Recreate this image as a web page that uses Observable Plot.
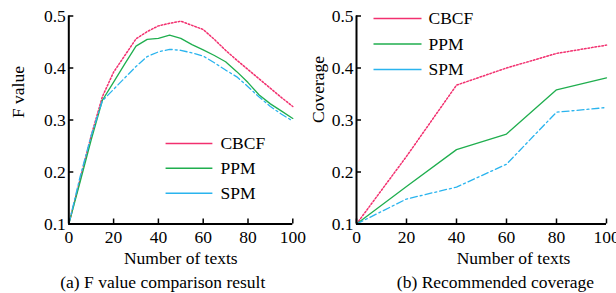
<!DOCTYPE html>
<html>
<head>
<meta charset="utf-8">
<script src="https://cdn.jsdelivr.net/npm/d3@7"></script>
<script src="https://cdn.jsdelivr.net/npm/@observablehq/plot@0.6"></script>
<style>
  html, body { margin: 0; padding: 0; background: #fff; }
  #wrap { position: relative; width: 616px; height: 293px; display: flex; }
  #wrap svg { display: block; font-family: "Liberation Serif", serif; }
</style>
</head>
<body>
<div id="wrap"></div>
<script>
// ---- data ----
const seriesNames = ["CBCF", "PPM", "SPM"];
const seriesColors = ["#f2306f", "#1fae4e", "#2ab4ee"];
const seriesDash = ["1.6,1.9", null, "7,3,2,3"];

// (a) F value comparison
const fX = [0, 5, 10, 15, 20, 25, 30, 35, 40, 45, 50, 55, 60, 65, 70, 75, 80, 85, 90, 95, 100];
const fCBCF = [0.10, 0.185, 0.27, 0.345, 0.392, 0.424, 0.456, 0.470, 0.481, 0.486, 0.490, 0.482, 0.474, 0.455, 0.434, 0.415, 0.397, 0.379, 0.361, 0.343, 0.326];
const fPPM  = [0.10, 0.18, 0.262, 0.338, 0.373, 0.408, 0.442, 0.455, 0.457, 0.463, 0.457, 0.445, 0.435, 0.424, 0.412, 0.393, 0.372, 0.348, 0.331, 0.317, 0.303];
const fSPM  = [0.10, 0.19, 0.27, 0.337, 0.359, 0.381, 0.403, 0.422, 0.431, 0.436, 0.434, 0.429, 0.423, 0.410, 0.396, 0.383, 0.364, 0.344, 0.326, 0.311, 0.298];

// (b) Recommended coverage
const cX = [0, 20, 40, 60, 80, 100];
const cCBCF = [0.10, 0.23, 0.367, 0.400, 0.428, 0.444];
const cPPM  = [0.10, 0.172, 0.243, 0.273, 0.358, 0.381];
const cSPM  = [0.10, 0.148, 0.171, 0.215, 0.315, 0.324];

const xTicks = [0, 20, 40, 60, 80, 100];
const yTicks = [0.1, 0.2, 0.3, 0.4, 0.5];
const xLabel = "Number of texts";

const FONT = "'Liberation Serif', 'Times New Roman', serif";
const FS = 17.5;

function rows(xs, ...ys) {
  const out = [];
  ys.forEach((arr, s) => arr.forEach((v, i) => out.push({x: xs[i], y: v, s: seriesNames[s]})));
  return out;
}

function chart({data, yLabel, caption, marginLeft, marginRight, legend, yLabelDx, yLabelDy, xLabelDx, captionDx}) {
  const W = 308, H = 293;
  const marks = [];
  seriesNames.forEach((name, i) => {
    marks.push(Plot.line(data.filter(d => d.s === name), {
      x: "x", y: "y", stroke: seriesColors[i], strokeWidth: i === 0 ? 1.5 : 1.3,
      strokeDasharray: seriesDash[i]
    }));
  });
  // legend
  const leg = seriesNames.map((name, i) => ({name, i, y: legend.y0 - i * legend.step}));
  marks.push(Plot.link(leg, {
    x1: legend.x1, x2: legend.x2, y1: "y", y2: "y",
    stroke: d => seriesColors[d.i], strokeWidth: 1.5,
    strokeDasharray: d => seriesDash[d.i]
  }));
  marks.push(Plot.text(leg, {
    x: legend.tx, y: "y", text: "name", textAnchor: "start", fill: "black", fontSize: FS, fontFamily: FONT
  }));
  // axes
  marks.push(Plot.axisY(yTicks, {tickSize: -5, tickPadding: 8, tickFormat: d3.format(".1f"), label: null, strokeWidth: 1.5, fontFamily: FONT}));
  marks.push(Plot.axisX(xTicks, {tickSize: -5, tickPadding: 12, tickFormat: d => d, label: null, strokeWidth: 1.5, fontFamily: FONT}));
  marks.push(Plot.ruleX([0], {y1: 0.1, y2: 0.5, strokeWidth: 2, stroke: "black"}));
  marks.push(Plot.ruleY([0.1], {x1: 0, x2: 100, strokeWidth: 2, stroke: "black"}));
  // labels
  marks.push(Plot.text([yLabel], {frameAnchor: "left", dx: yLabelDx, dy: yLabelDy, rotate: -90, text: d => d, fill: "black", fontSize: FS, fontFamily: FONT, lineAnchor: "middle"}));
  marks.push(Plot.text([xLabel], {frameAnchor: "bottom", dx: xLabelDx, dy: 34.5, text: d => d, fill: "black", fontSize: FS, fontFamily: FONT, lineAnchor: "middle"}));
  marks.push(Plot.text([caption], {frameAnchor: "bottom", dx: captionDx, dy: 58.5, text: d => d, fill: "black", fontSize: FS, fontFamily: FONT, lineAnchor: "middle"}));

  return Plot.plot({
    width: W, height: H,
    marginLeft, marginRight, marginTop: 15.5, marginBottom: 69.5,
    x: {domain: [0, 100]},
    y: {domain: [0.1, 0.5]},
    style: {fontFamily: FONT, fontSize: FS + "px", color: "black", background: "white", overflow: "visible"},
    marks
  });
}

const wrap = document.getElementById("wrap");
wrap.appendChild(chart({
  data: rows(fX, fCBCF, fPPM, fSPM),
  yLabel: "F value", caption: "(a) F value comparison result",
  marginLeft: 68.3, marginRight: 15.7,
  legend: {x1: 43.2, x2: 64.1, tx: 67.7, y0: 0.255, step: 0.048},
  yLabelDx: -50, yLabelDy: -2, xLabelDx: 0, captionDx: -18
}));
wrap.appendChild(chart({
  data: rows(cX, cCBCF, cPPM, cSPM),
  yLabel: "Coverage", caption: "(b) Recommended coverage",
  marginLeft: 48, marginRight: 10,
  legend: {x1: 6.8, x2: 26, tx: 28.8, y0: 0.495, step: 0.049},
  yLabelDx: -38, yLabelDy: 3, xLabelDx: 32, captionDx: 14
}));
</script>
</body>
</html>
